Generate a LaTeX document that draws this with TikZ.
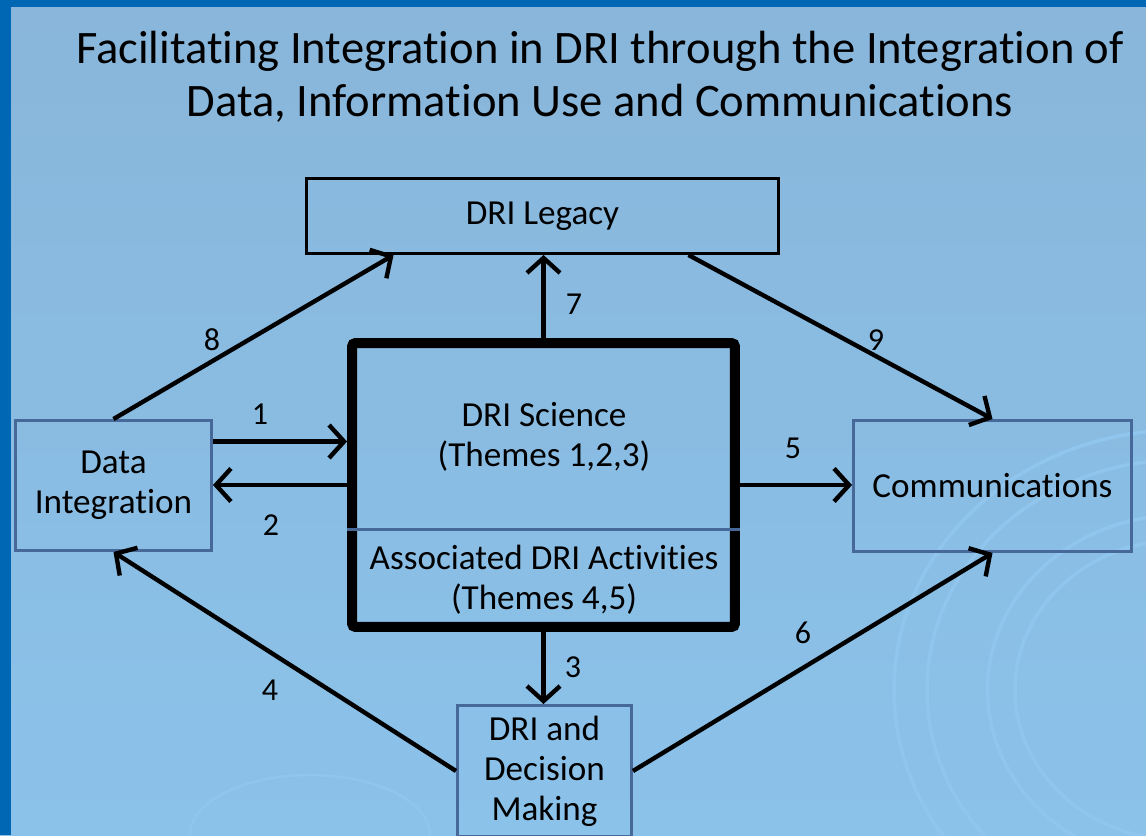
\documentclass[tikz,border=0pt]{standalone}
\usepackage{fontspec}
\setmainfont{Carlito}[Ligatures=NoCommon]
\usetikzlibrary{calc,arrows.meta}
\definecolor{slideblue}{HTML}{0067B4}
\definecolor{bgtop}{HTML}{89B6DA}
\definecolor{bgbot}{HTML}{8BC2EA}
\definecolor{boxline}{HTML}{46699A}
\definecolor{swirl}{HTML}{90C6EE}
\newcommand{\boxfont}{\fontsize{20}{22.8}\selectfont}

\begin{document}
\begin{tikzpicture}[x=0.02cm,y=-0.02cm]
    \tikzset{
      blockbox/.style={draw=boxline,line width=1.7pt,inner sep=0pt,align=center,font=\boxfont},
      flow/.style={line width=2.5pt,-{Straight Barb[length=3mm,width=6.6mm]}},
      num/.style={font=\fontsize{18.2}{22}\selectfont}}
\useasboundingbox (0,0) rectangle (1146,835);
\clip (0,0) rectangle (1146,835);
% slide background
\shade[top color=bgtop,bottom color=bgbot] (0,0) rectangle (1146,835);
\fill[slideblue] (0,0) rectangle (1146,7);
\fill[slideblue] (0,0) rectangle (11,835);
\foreach \r in {150,175,230,260} {
  \draw[swirl,line width=2pt] (1180,690) ellipse ({\r*1.1} and \r);
}
\draw[swirl,line width=1.5pt] (310,835) ellipse (120 and 60);
\node[font=\fontsize{26.5}{30.2}\selectfont,align=center] (title) at (600,77)
  {Facilitating Integration in DRI through the Integration of\\Data, Information Use and Communications};

% boxes
\node[blockbox,draw=black,minimum width=9.44cm,minimum height=1.5cm] (legacy) at (542.5,216) {DRI Legacy};
\node[draw=black,line width=5.7pt,rounded corners=2pt,minimum width=7.66cm,minimum height=5.68cm] (sci) at (543.5,485) {};
\draw[boxline,line width=1.7pt] ($(sci.west)+(0,44)$) -- ($(sci.east)+(0,44)$);
\node[font=\boxfont,align=center] (scitext) at (544,437) {DRI Science\\(Themes 1,2,3)};
\node[font=\boxfont,align=center] (acttext) at (544,580) {Associated DRI Activities\\(Themes 4,5)};
\node[blockbox,minimum width=3.92cm,minimum height=2.6cm] (di) at (113.5,485.5) {Data\\Integration};
\node[blockbox,minimum width=5.56cm,minimum height=2.62cm] (comm) at (992.5,486) {Communications};
\node[blockbox,minimum width=3.48cm,minimum height=2.62cm] (dm) at (544.5,771) {DRI and\\Decision\\Making};

% connectors
\draw[flow] ([yshift=0.88cm]di.east) -- ([yshift=0.88cm]di.east -| sci.west);
\draw[flow] (sci.west) -- (sci.west -| di.east);
\draw[flow] (sci.south) -- (sci.south |- dm.north);
\draw[flow] (dm.west) -- (di.south);
\draw[flow] (sci.east) -- (sci.east -| comm.west);
\draw[flow] (dm.east) -- (comm.south);
\draw[flow] (sci.north) -- (sci.north |- legacy.south);
\draw[flow] (di.north) -- ([xshift=1.77cm]legacy.south west);
\draw[flow] ([xshift=7.67cm]legacy.south west) -- (comm.north);

% numbers
\node[num] (n1) at (260,414) {1};
\node[num] (n2) at (271,525) {2};
\node[num] (n3) at (573,667) {3};
\node[num] (n4) at (270,690) {4};
\node[num] (n5) at (793,448) {5};
\node[num] (n6) at (803,633) {6};
\node[num] (n7) at (574,304) {7};
\node[num] (n8) at (212,340) {8};
\node[num] (n9) at (876,340) {9};
\end{tikzpicture}
\end{document}
